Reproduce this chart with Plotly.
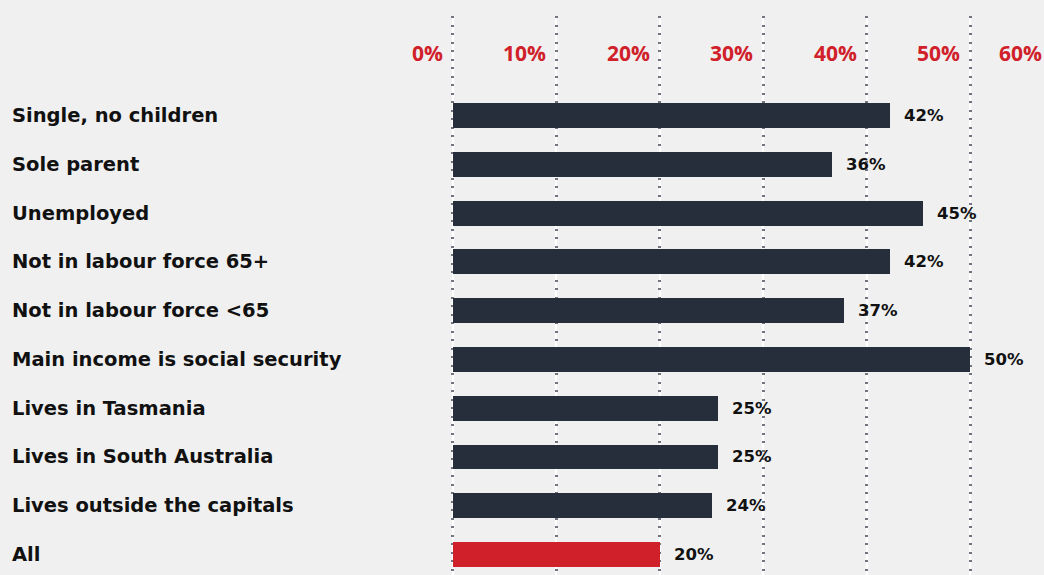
import plotly.graph_objects as go

categories = [
    "Single, no children",
    "Sole parent",
    "Unemployed",
    "Not in labour force 65+",
    "Not in labour force <65",
    "Main income is social security",
    "Lives in Tasmania",
    "Lives in South Australia",
    "Lives outside the capitals",
    "All",
]
# bar lengths as drawn (percent)
values = [42.2, 36.6, 45.4, 42.2, 37.8, 50.0, 25.6, 25.6, 25.0, 20.0]
# value labels as printed
value_labels = ["42%", "36%", "45%", "42%", "37%", "50%", "25%", "25%", "24%", "20%"]
tick_values = [0, 10, 20, 30, 40, 50, 60]
tick_labels = ["0%", "10%", "20%", "30%", "40%", "50%", "60%"]

NAVY = "#262d3b"
RED = "#d0202a"
BG = "#f0f0f0"
LABEL_FONT = "DejaVu Sans"
TICK_FONT = "Open Sans"

W, H = 1044, 575
ML, MR, MT, MB = 451, 0, 16, 0
plot_w = W - ML - MR
x_min, x_max = -0.15, 57.1
n = len(categories)
y_idx = list(range(n))

colors = [RED if c == "All" else NAVY for c in categories]

fig = go.Figure()
fig.add_trace(go.Bar(
    x=values, y=y_idx, orientation="h",
    marker=dict(color=colors, line=dict(width=0)),
    width=0.51, hoverinfo="skip", showlegend=False,
))
# invisible trace to activate overlaying axis for dotted grid
fig.add_trace(go.Scatter(x=[0], y=[0], xaxis="x2", mode="markers",
                         marker=dict(opacity=0), hoverinfo="skip", showlegend=False))

annotations = []
# category labels (left-aligned)
for i, c in enumerate(categories):
    annotations.append(dict(
        x=-(ML - 10) / plot_w, xref="paper", y=i, yref="y",
        text=c, showarrow=False, xanchor="left", yanchor="middle",
        font=dict(family=LABEL_FONT, size=19.5, color="#111111", weight=700),
    ))
# value labels
for i, (v, t) in enumerate(zip(values, value_labels)):
    annotations.append(dict(
        x=v, xref="x", y=i, yref="y", text=t, showarrow=False,
        xanchor="left", yanchor="middle", xshift=12,
        font=dict(family=LABEL_FONT, size=16.5, color="#111111", weight=700),
    ))
# axis tick labels (right-aligned left of gridline, justified inside chart)
for tv, tl in zip(tick_values, tick_labels):
    annotations.append(dict(
        x=min(tv, x_max), xref="x", y=-1.28, yref="y", text=tl, showarrow=False,
        xanchor="right", yanchor="middle", xshift=-8 if tv <= x_max else 0,
        font=dict(family=TICK_FONT, size=21, color=RED, weight=700),
    ))

fig.update_layout(
    width=W, height=H,
    margin=dict(l=ML, r=MR, t=MT, b=MB, pad=0),
    paper_bgcolor=BG, plot_bgcolor=BG,
    bargap=0,
    xaxis=dict(range=[x_min, x_max], tickvals=tick_values, showticklabels=False,
               showgrid=True, gridcolor="#ffffff", gridwidth=2,
               zeroline=False, showline=False, fixedrange=True),
    xaxis2=dict(range=[x_min, x_max], overlaying="x", tickvals=tick_values,
                showticklabels=False, showgrid=True, gridcolor="#72757f",
                gridwidth=2.5, griddash="2px,6.5px", zeroline=False,
                showline=False, fixedrange=True),
    yaxis=dict(range=[n - 1 + 0.42, -2.04], showticklabels=False,
               showgrid=False, zeroline=False, showline=False, fixedrange=True),
    annotations=annotations,
)

fig.write_html("out.html", config={"displayModeBar": False},
               post_script="document.body.style.margin='0';document.body.style.background='#f0f0f0';")
